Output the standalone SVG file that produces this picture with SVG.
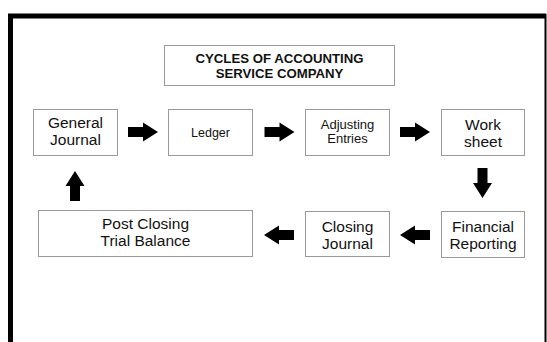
<svg xmlns="http://www.w3.org/2000/svg" width="547" height="342" viewBox="0 0 547 342">
  <style>
    .box { fill: #ffffff; stroke: #9a9a9a; stroke-width: 1; }
    .lbl { font-family: "Liberation Sans", Arial, sans-serif; fill: #111111; text-anchor: middle; }
    .big { font-size: 15.5px; }
    .mid { font-size: 13px; }
    .sm { font-size: 12.5px; }
    .title { font-family: "Liberation Sans", Arial, sans-serif; font-weight: bold; font-size: 13.2px; fill: #111111; text-anchor: middle; }
    .arrow { fill: #000000; }
  </style>
  <defs>
    <!-- block arrow pointing right, 30px long, origin at tail centre -->
    <path id="blk" d="M0,-5 H15 V-9.5 L30,0 L15,9.5 V5 H0 Z"/>
  </defs>

  <rect x="0" y="0" width="547" height="342" fill="#ffffff"/>

  <!-- outer frame -->
  <g id="frame">
    <path d="M10.5,342 V16 H546" fill="none" stroke="#000000" stroke-width="5"/>
    <line x1="545.5" y1="14" x2="545.5" y2="342" stroke="#000000" stroke-width="2"/>
  </g>

  <g id="title">
    <rect class="box" x="164.5" y="45.5" width="230" height="40"/>
    <text class="title" x="279.5" y="62.5">CYCLES OF ACCOUNTING</text>
    <text class="title" x="279.5" y="77.5">SERVICE COMPANY</text>
  </g>

  <g id="general-journal">
    <rect class="box" x="33.5" y="109.5" width="84" height="46"/>
    <text class="lbl big" x="75.5" y="128">General</text>
    <text class="lbl big" x="75.5" y="145">Journal</text>
  </g>

  <g id="ledger">
    <rect class="box" x="168.5" y="109.5" width="84" height="46"/>
    <text class="lbl sm" x="210.5" y="137">Ledger</text>
  </g>

  <g id="adjusting-entries">
    <rect class="box" x="305.5" y="109.5" width="84" height="46"/>
    <text class="lbl mid" x="347.5" y="128.5">Adjusting</text>
    <text class="lbl mid" x="347.5" y="142.5">Entries</text>
  </g>

  <g id="work-sheet">
    <rect class="box" x="441.5" y="109.5" width="83" height="46"/>
    <text class="lbl big" x="483" y="130">Work</text>
    <text class="lbl big" x="483" y="147">sheet</text>
  </g>

  <g id="financial-reporting">
    <rect class="box" x="441.5" y="211.5" width="83" height="46"/>
    <text class="lbl big" x="483" y="231.5">Financial</text>
    <text class="lbl big" x="483" y="249">Reporting</text>
  </g>

  <g id="closing-journal">
    <rect class="box" x="305.5" y="211.5" width="84" height="45"/>
    <text class="lbl big" x="347.5" y="231.5">Closing</text>
    <text class="lbl big" x="347.5" y="249">Journal</text>
  </g>

  <g id="post-closing-trial-balance">
    <rect class="box" x="38.5" y="210.5" width="214" height="46"/>
    <text class="lbl big" x="145.5" y="229">Post Closing</text>
    <text class="lbl big" x="145.5" y="246">Trial Balance</text>
  </g>

  <g id="connectors" class="arrow">
    <use href="#blk" transform="translate(128,132)"/>
    <use href="#blk" transform="translate(264.5,132)"/>
    <use href="#blk" transform="translate(400,132)"/>
    <use href="#blk" transform="translate(482.5,168) rotate(90)"/>
    <use href="#blk" transform="translate(430,235) rotate(180)"/>
    <use href="#blk" transform="translate(294,235) rotate(180)"/>
    <use href="#blk" transform="translate(75,201) rotate(-90)"/>
  </g>
</svg>
